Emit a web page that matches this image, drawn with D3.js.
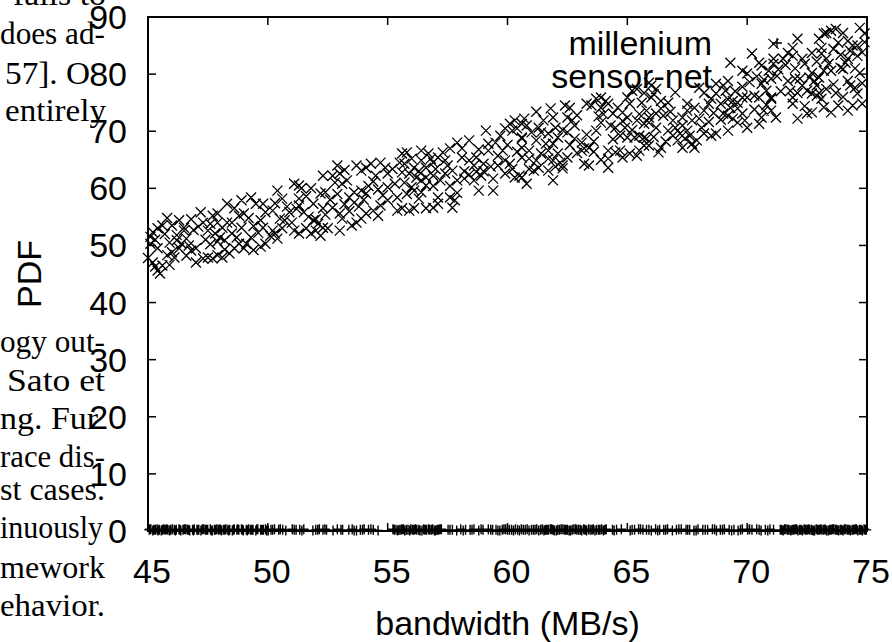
<!DOCTYPE html>
<html lang="en">
  <head>
    <meta charset="UTF-8" />
    <title>PDF - bandwidth</title>
    <script src="https://d3js.org/d3.v7.min.js"></script>
    <style>
      body { margin: 0; background: #fff; }
      svg { display: block; }
    </style>
  </head>
  <body>
    <svg width="892" height="642"></svg>

    <script>
      // ---- data ----
      const xTicks = [45, 50, 55, 60, 65, 70, 75];
      const yTicks = [0, 10, 20, 30, 40, 50, 60, 70, 80, 90];
      const seriesNames = ["millenium", "sensor-net"];

      // millenium: points lying on the PDF = 0 line
      const millenium = [
        [45.05,0.2],[45.12,0.3],[45.2,0.1],[45.31,0.2],[45.38,0.3],[45.47,0.2],[45.55,0.1],[45.66,0.3],[45.72,0.2],[45.83,0.2],
        [45.9,0.1],[46.02,0.3],[46.1,0.2],[46.18,0.2],[46.29,0.3],[46.37,0.1],[46.46,0.2],[46.58,0.3],[46.65,0.2],[46.74,0.1],
        [46.86,0.2],[46.93,0.3],[47.04,0.2],[47.12,0.2],[47.21,0.1],[47.33,0.3],[47.4,0.2],[47.49,0.2],[47.6,0.3],[47.68,0.1],
        [47.77,0.2],[47.88,0.3],[47.95,0.2],[48.06,0.1],[48.14,0.2],[48.25,0.3],[48.33,0.2],[48.41,0.2],[48.52,0.1],[48.6,0.3],
        [48.71,0.2],[48.79,0.2],[48.9,0.3],[48.98,0.1],[49.1,0.2],[49.19,0.3],[49.27,0.2],[49.38,0.2],[49.5,0.1],[49.58,0.3],
        [49.7,0.2],[49.81,0.2],[49.9,0.3],[50.02,0.1],[50.13,0.2],[50.28,0.3],[50.45,0.2],[50.62,0.2],[50.75,0.1],[51.02,0.3],
        [51.18,0.2],[51.33,0.2],[51.5,0.3],[51.88,0.1],[52.0,0.2],[52.15,0.3],[52.3,0.2],[52.45,0.2],[52.72,0.1],[52.9,0.3],
        [53.05,0.2],[53.38,0.2],[53.52,0.3],[53.7,0.1],[53.86,0.2],[54.02,0.3],[54.2,0.2],[54.4,0.2],[54.6,0.1],[55.22,0.3],
        [55.35,0.2],[55.48,0.2],[55.6,0.3],[55.71,0.1],[55.85,0.2],[55.97,0.3],[56.1,0.2],[56.22,0.2],[56.35,0.1],[56.5,0.3],
        [56.62,0.2],[56.75,0.2],[56.88,0.3],[57.0,0.1],[57.12,0.2],[57.24,0.3],[57.52,0.2],[57.7,0.2],[57.88,0.1],[58.05,0.3],
        [58.25,0.2],[58.44,0.2],[58.6,0.3],[58.8,0.1],[58.98,0.2],[59.2,0.3],[59.38,0.2],[59.52,0.2],[59.68,0.1],[59.85,0.3],
        [60.0,0.2],[60.17,0.2],[60.33,0.3],[60.5,0.1],[60.66,0.2],[60.82,0.3],[61.0,0.2],[61.15,0.2],[61.3,0.1],[61.45,0.3],
        [61.58,0.2],[61.7,0.2],[61.84,0.3],[61.96,0.1],[62.1,0.2],[62.24,0.3],[62.38,0.2],[62.5,0.2],[62.63,0.1],[62.77,0.3],
        [62.9,0.2],[63.04,0.2],[63.18,0.3],[63.3,0.1],[63.45,0.2],[63.58,0.3],[63.72,0.2],[63.86,0.2],[64.0,0.1],[64.12,0.3],
        [64.38,0.2],[64.55,0.2],[64.75,0.3],[65.12,0.1],[65.3,0.2],[65.47,0.3],[65.65,0.2],[65.8,0.2],[66.0,0.1],[66.18,0.3],
        [66.35,0.2],[66.52,0.2],[66.68,0.3],[66.88,0.1],[67.05,0.2],[67.25,0.3],[67.45,0.2],[67.6,0.2],[67.78,0.1],[67.95,0.3],
        [68.15,0.2],[68.35,0.2],[68.55,0.3],[68.72,0.1],[68.88,0.2],[69.05,0.3],[69.25,0.2],[69.45,0.2],[69.62,0.1],[69.8,0.3],
        [70.02,0.2],[70.2,0.2],[70.4,0.3],[70.58,0.1],[70.76,0.2],[70.95,0.3],[71.1,0.2],[71.38,0.2],[71.5,0.1],[71.62,0.3],
        [71.75,0.2],[71.88,0.2],[72.0,0.3],[72.12,0.1],[72.25,0.2],[72.38,0.3],[72.5,0.2],[72.62,0.2],[72.75,0.1],[72.88,0.3],
        [73.0,0.2],[73.12,0.2],[73.25,0.3],[73.38,0.1],[73.5,0.2],[73.62,0.3],[73.75,0.2],[73.88,0.2],[74.0,0.1],[74.12,0.3],
        [74.25,0.2],[74.38,0.2],[74.5,0.3],[74.62,0.1],[74.75,0.2],[74.88,0.3],[74.97,0.2],
        [45.08,0.3],[45.25,0.2],[45.42,0.1],[45.6,0.2],[45.78,0.3],[45.95,0.2],[46.14,0.1],[46.33,0.2],[46.52,0.3],[46.7,0.2],
        [46.9,0.1],[47.08,0.2],[47.27,0.3],[47.45,0.2],[47.64,0.1],[47.82,0.2],[48.01,0.3],[48.2,0.2],[48.37,0.1],[48.56,0.2],
        [48.75,0.3],[48.94,0.2],[49.14,0.1],[49.33,0.2],[49.54,0.3],[49.75,0.2],[49.95,0.1],[50.2,0.2],[50.52,0.3],[51.1,0.2],
        [51.42,0.1],[52.08,0.2],[52.38,0.3],[53.12,0.2],[53.6,0.1],[53.95,0.2],[54.3,0.3],[55.28,0.2],[55.42,0.1],[55.55,0.2],
        [55.66,0.3],[55.78,0.2],[55.92,0.1],[56.04,0.2],[56.16,0.3],[56.3,0.2],[56.43,0.1],[56.56,0.2],[56.7,0.3],[56.82,0.2],
        [56.95,0.1],[57.06,0.2],[57.18,0.3],[57.6,0.2],[58.15,0.1],[58.52,0.2],[58.9,0.3],[59.3,0.2],[59.6,0.1],[59.78,0.2],
        [59.92,0.3],[60.08,0.2],[60.25,0.1],[60.42,0.2],[60.58,0.3],[60.74,0.2],[60.9,0.1],[61.08,0.2],[61.22,0.3],[61.38,0.2],
        [61.52,0.1],[61.64,0.2],[61.78,0.3],[61.9,0.2],[62.04,0.1],[62.17,0.2],[62.31,0.3],[62.44,0.2],[62.57,0.1],[62.7,0.2],
        [62.84,0.3],[62.97,0.2],[63.1,0.1],[63.24,0.2],[63.38,0.3],[63.52,0.2],[63.65,0.1],[63.8,0.2],[63.93,0.3],[64.06,0.2],
        [64.45,0.1],[65.2,0.2],[65.55,0.3],[65.9,0.2],[66.27,0.1],[66.6,0.2],[67.15,0.3],[67.52,0.2],[67.87,0.1],[68.25,0.2],
        [68.64,0.3],[68.97,0.2],[69.35,0.1],[69.72,0.2],[70.1,0.3],[70.5,0.2],[70.86,0.1],[71.44,0.2],[71.56,0.3],[71.69,0.2],
        [71.82,0.1],[71.94,0.2],[72.06,0.3],[72.19,0.2],[72.31,0.1],[72.44,0.2],[72.56,0.3],[72.69,0.2],[72.81,0.1],[72.94,0.2],
        [73.06,0.3],[73.19,0.2],[73.31,0.1],[73.44,0.2],[73.56,0.3],[73.69,0.2],[73.81,0.1],[73.94,0.2],[74.06,0.3],[74.19,0.2],
        [74.31,0.1],[74.44,0.2],[74.56,0.3],[74.69,0.2],[74.81,0.1],[74.92,0.2]
      ];

      // sensor-net: the rising cloud of points
      const sensorNet = [
        // 45 - 50
        [45.2,52.3],[45.4,53.0],[45.1,50.3],[45.4,49.5],[45.2,47.0],[45.4,45.6],[45.5,45.1],[45.6,46.5],[45.8,48.3],[46.0,48.8],
        [46.1,47.9],[46.3,49.5],[46.0,53.5],[46.3,54.4],[46.5,53.1],[46.5,52.6],[46.2,50.9],[46.4,50.3],[46.7,50.0],[46.8,49.1],
        [47.0,49.5],[47.0,47.0],[47.3,47.7],[47.5,47.9],[47.7,47.7],[47.9,48.3],[48.1,47.9],[47.2,55.8],[47.3,54.0],[47.5,52.6],
        [47.7,55.2],[47.9,55.6],[47.9,54.0],[48.1,53.1],[47.8,52.1],[48.0,51.4],[48.2,50.9],[48.3,57.3],[48.3,54.0],[48.5,54.0],
        [48.5,52.1],[48.7,51.4],[48.8,50.3],[48.9,53.1],[49.0,55.6],[48.9,57.9],[49.3,58.4],[49.5,57.3],[49.8,57.3],[49.0,49.5],
        [49.1,50.3],[48.6,49.5],[49.3,51.4],[49.7,54.4],[49.8,53.1],[49.9,50.3],[50.1,51.7],[45.1,51.5],[45.3,46.3],[45.0,47.8],
        [45.6,53.5],[45.9,50.5],
        [45.3,51.0],[45.7,52.0],[46.2,51.8],[46.6,51.2],[46.9,52.7],[47.1,53.3],[47.4,51.0],[47.6,50.2],[47.9,50.7],[48.2,49.3],
        [48.4,48.6],[48.8,55.2],[49.2,54.8],[49.4,53.4],[49.6,52.2],[49.9,55.8],[48.6,56.5],[47.6,53.8],[46.8,54.6],[45.8,54.8],
        [49.4,49.2],[49.7,49.8],[46.6,48.2],[45.9,46.6],
        // 50 - 55
        [50.4,59.6],[50.6,58.2],[50.2,56.1],[50.5,54.7],[50.7,54.4],[50.2,52.6],[50.4,51.2],[50.3,52.1],[51.1,60.8],[51.3,60.5],
        [51.4,60.0],[51.3,58.2],[51.3,57.0],[50.9,55.8],[51.5,55.8],[51.1,52.6],[51.3,52.1],[51.6,53.0],[51.8,52.1],[52.0,52.6],
        [52.1,53.8],[52.2,51.7],[52.3,53.1],[52.5,53.0],[51.8,60.0],[52.2,59.1],[52.4,59.3],[51.9,57.3],[52.3,56.5],[52.3,62.2],
        [52.7,62.2],[52.8,61.0],[53.1,60.8],[53.0,62.6],[53.3,61.4],[52.7,56.6],[53.0,55.6],[53.1,54.7],[53.0,52.6],[53.5,53.5],
        [53.7,54.0],[53.9,54.7],[54.1,55.6],[54.4,56.1],[54.6,55.2],[54.7,57.0],[55.0,57.9],[53.4,58.4],[53.6,59.3],[53.9,59.6],
        [54.1,59.1],[53.6,57.5],[53.7,64.0],[53.9,63.1],[54.1,63.6],[54.3,64.3],[54.5,62.2],[54.7,64.5],[54.9,63.6],[55.0,62.6],
        [55.3,60.8],[55.4,56.1],
        [50.3,57.4],[50.8,56.8],[51.0,54.0],[51.2,56.4],[51.6,58.6],[51.7,55.0],[52.0,54.6],[52.4,55.4],[52.6,58.0],[52.9,59.0],
        [53.2,57.2],[53.4,56.0],[53.8,56.8],[54.0,58.0],[54.2,60.4],[54.4,61.2],[54.6,59.8],[54.8,58.8],[55.0,60.2],[55.2,63.4],
        [53.2,63.2],[52.9,64.0],[50.6,53.0],[51.9,54.4],
        // 55 - 60.6
        [55.6,66.1],[55.8,66.3],[55.5,64.5],[55.7,64.3],[56.0,65.2],[56.1,63.6],[56.4,66.6],[56.4,64.9],[56.7,66.1],[56.8,65.2],
        [56.9,64.5],[57.1,65.4],[57.4,64.9],[57.3,66.3],[57.5,64.0],[57.7,63.1],[55.6,62.8],[55.9,62.6],[56.2,61.9],[56.4,61.4],
        [56.6,60.5],[56.6,61.9],[56.9,62.2],[55.7,61.0],[56.1,59.6],[56.3,58.2],[56.4,59.3],[55.6,56.5],[55.9,56.1],[56.1,56.5],
        [56.6,56.5],[56.9,56.6],[57.1,58.4],[57.1,57.3],[57.6,58.4],[57.8,57.9],[57.7,56.6],[57.9,61.4],[58.2,61.7],[58.6,61.4],
        [58.8,59.6],[59.4,61.7],[59.4,59.6],[58.9,62.2],[57.9,68.0],[58.1,67.0],[58.4,68.4],[58.1,65.4],[58.4,64.9],[58.7,65.4],
        [58.6,64.0],[59.0,64.3],[59.2,66.6],[59.1,70.1],[59.2,67.8],[59.5,68.0],[59.8,66.6],[59.6,65.7],[59.9,70.5],[60.1,71.3],
        [60.3,71.9],[60.2,70.1],[60.4,70.5],[59.9,64.9],[60.1,64.3],[60.3,61.9],[60.5,62.2],[60.6,68.9],
        [55.4,58.4],[55.8,59.0],[56.0,60.2],[56.3,63.0],[56.6,63.6],[56.9,60.4],[57.2,61.4],[57.4,62.6],[57.0,63.4],[57.6,60.4],
        [57.9,59.2],[58.2,63.0],[58.4,62.4],[58.7,62.9],[59.0,63.0],[59.3,63.8],[59.6,64.0],[59.9,62.6],[60.2,63.4],[60.4,66.4],
        [60.0,67.6],[59.7,69.2],[58.8,66.8],[57.6,67.0],
        // 60.6 - 65.8
        [60.7,72.2],[60.6,71.3],[60.8,71.0],[60.6,68.7],[60.6,67.1],[60.9,66.6],[60.6,65.4],[60.9,65.2],[60.6,61.9],[60.8,60.8],
        [61.1,63.1],[61.3,63.6],[61.2,64.9],[61.4,66.1],[61.2,68.4],[61.4,69.8],[61.5,71.9],[61.7,69.6],[61.9,72.4],[61.8,74.0],
        [61.9,67.8],[62.1,68.9],[61.7,66.6],[61.7,65.2],[61.9,64.9],[61.7,63.1],[61.9,61.4],[62.1,66.1],[62.2,64.5],[62.3,64.0],
        [62.5,65.4],[62.3,63.5],[62.4,74.5],[62.6,74.1],[62.5,72.4],[62.7,71.9],[62.8,71.0],[62.5,69.8],[62.8,68.7],[63.1,68.0],
        [63.2,67.0],[63.1,66.6],[63.4,67.1],[63.2,64.3],[63.4,64.0],[63.3,74.8],[63.5,74.5],[63.7,75.7],[63.9,75.9],[64.1,75.3],
        [63.9,74.1],[64.2,74.8],[63.9,71.5],[63.7,70.1],[64.4,73.1],[64.6,74.1],[64.8,73.3],[65.0,72.4],[65.1,74.8],[65.0,75.9],
        [65.2,77.1],[65.4,77.4],[65.7,76.7],[65.8,73.6],[65.4,71.9],[65.7,71.3],[64.9,70.6],[64.7,69.2],[65.0,68.9],[65.3,68.9],
        [65.5,69.2],[65.7,68.9],[64.2,66.6],[64.2,65.2],[64.2,63.6],[64.5,66.3],[64.7,66.6],[64.8,65.4],[65.1,66.1],[65.4,65.7],
        [65.5,66.6],[65.7,67.5],
        [61.0,69.8],[61.3,70.6],[62.0,70.6],[62.3,70.2],[62.6,67.6],[62.9,66.2],[63.3,69.4],[63.6,68.2],[63.8,72.6],[64.0,73.0],
        [64.3,71.0],[64.5,70.6],[64.8,71.8],[63.6,66.4],[63.9,65.0],[64.4,68.6],[61.6,67.8],[62.0,63.8],[60.9,63.4],[65.2,70.2],
        [65.5,73.0],[65.6,75.0],[62.9,72.8],[61.2,73.4],
        // 65.8 - 71
        [65.9,78.5],[66.0,78.0],[66.2,77.4],[66.0,75.9],[66.4,75.3],[66.7,75.0],[66.4,74.0],[66.2,73.1],[65.9,72.4],[65.9,71.5],
        [66.2,70.6],[66.9,71.9],[66.7,70.1],[65.8,68.7],[65.9,67.5],[66.3,66.3],[66.4,67.1],[66.9,69.2],[67.1,68.4],[67.3,67.1],
        [67.4,68.7],[67.7,67.8],[67.8,67.1],[67.5,70.1],[67.3,71.0],[67.3,72.4],[67.5,73.6],[67.5,74.8],[67.8,74.1],[67.7,71.9],
        [68.0,72.2],[68.2,73.6],[68.4,74.8],[68.2,76.7],[68.5,75.7],[68.7,76.6],[68.7,78.3],[69.0,78.0],[69.2,78.8],[69.1,77.1],
        [68.9,74.8],[69.0,73.1],[69.2,72.7],[69.4,72.2],[69.6,71.5],[69.8,73.1],[69.9,71.9],[70.0,70.6],[69.6,74.0],[69.3,74.1],
        [69.4,75.3],[69.6,75.0],[69.8,75.9],[70.0,75.9],[70.3,76.2],[70.5,75.9],[70.8,77.1],[71.0,75.9],[70.6,72.4],[70.5,71.3],
        [70.7,73.6],[68.2,69.6],[68.5,69.2],[68.7,69.6],[69.2,70.1],[69.3,82.0],[69.8,80.6],[70.0,80.1],[70.2,83.6],[70.5,82.0],
        [70.6,81.5],[70.6,78.3],[71.1,85.3],[71.1,81.8],[71.0,79.2],
        [66.1,76.5],[66.5,72.7],[66.8,73.4],[67.0,70.6],[67.2,69.6],[67.6,69.2],[67.9,68.4],[68.1,70.6],[68.4,71.6],[68.6,73.2],
        [68.9,72.0],[69.2,75.6],[69.5,77.0],[69.8,77.8],[70.1,78.6],[70.4,79.6],[70.7,79.0],[70.9,80.6],[70.3,73.8],[70.8,74.6],
        [66.6,68.2],[66.1,69.0],[67.0,76.8],[68.0,77.6],
        // 71 - 75
        [71.1,82.7],[71.5,82.7],[71.7,83.7],[71.9,84.6],[71.9,83.2],[72.1,86.2],[72.3,82.7],[72.7,83.7],[73.0,86.2],[73.2,87.1],
        [73.3,87.2],[73.1,84.6],[73.5,87.6],[73.7,87.9],[74.0,87.2],[73.8,85.5],[74.2,85.8],[74.4,85.0],[74.6,85.0],[74.3,84.1],
        [74.6,83.2],[74.2,82.7],[74.7,88.1],[74.9,87.1],[73.3,82.7],[73.4,81.8],[73.5,80.6],[73.9,81.1],[74.0,80.9],[73.2,80.6],
        [72.7,80.2],[72.6,79.4],[72.8,78.8],[73.0,79.4],[71.7,78.8],[72.0,79.2],[72.2,79.2],[71.8,77.1],[71.9,75.9],[71.9,74.8],
        [72.1,76.7],[72.5,77.1],[72.7,76.6],[72.9,76.2],[73.0,76.7],[73.1,75.7],[71.0,75.7],[71.0,73.6],[72.1,72.2],[72.5,73.1],
        [72.7,73.3],[73.5,73.3],[73.8,74.5],[73.7,76.7],[74.2,78.8],[74.3,78.0],[74.5,77.6],[74.6,76.6],[74.4,74.5],[74.7,80.2],
        [71.3,80.8],[71.6,81.6],[72.0,81.0],[72.4,81.8],[72.9,82.2],[73.1,83.6],[73.6,84.4],[73.9,83.4],[74.1,82.0],[74.5,81.0],
        [74.8,83.8],[74.9,85.6],[72.3,78.0],[72.9,78.0],[73.3,77.4],[73.6,78.2],[74.0,76.0],[74.8,78.4],[71.4,77.0],[71.2,72.4],
        [72.4,74.4],[73.2,74.2],[74.2,73.6],[74.8,74.8]
      ];

      // fragments of the page text that sits behind the figure
      const pageLines = [
        { text: "fails to", y: 5, x0: 13, x1: 106 },
        { text: "does ad-", y: 44, x0: 0, x1: 105 },
        { text: "57]. O", y: 84, x0: 5, x1: 90 },
        { text: "entirely", y: 121, x0: 5, x1: 106 },
        { text: "ogy out-", y: 352, x0: 0, x1: 105 },
        { text: "Sato et", y: 391, x0: 7, x1: 105 },
        { text: "ng. Fur", y: 429, x0: 0, x1: 98 },
        { text: "race dis-", y: 467, x0: 0, x1: 105 },
        { text: "st cases.", y: 500, x0: 0, x1: 105 },
        { text: "inuously", y: 538, x0: 0, x1: 103 },
        { text: "mework", y: 578, x0: 0, x1: 105 },
        { text: "ehavior.", y: 616, x0: 0, x1: 105 }
      ];

      const svg = d3.select("svg");
      const width = +svg.attr("width");
      const height = +svg.attr("height");
      const margin = { left: 148, right: width - 867, top: 17, bottom: height - 531 };
      const font = "'Liberation Sans', Arial, sans-serif";

      const x = d3.scaleLinear().domain([45, 75]).range([margin.left, width - margin.right]);
      const y = d3.scaleLinear().domain([0, 90]).range([height - margin.bottom, margin.top]);

      // page text behind
      svg.append("g")
        .selectAll("text")
        .data(pageLines)
        .join("text")
        .attr("x", (d) => d.x0)
        .attr("y", (d) => d.y)
        .attr("textLength", (d) => d.x1 - d.x0)
        .attr("lengthAdjust", "spacingAndGlyphs")
        .style("font-family", "'Liberation Serif', 'DejaVu Serif', serif")
        .style("font-size", "32px")
        .style("fill", "#000")
        .text((d) => d.text);

      // frame
      svg.append("rect")
        .attr("x", x(45)).attr("y", y(90))
        .attr("width", x(75) - x(45)).attr("height", y(0) - y(90))
        .style("fill", "none").style("stroke", "#000").style("stroke-width", 2);

      // ticks (mirrored, pointing inward)
      const tickLen = 8;
      const ticks = svg.append("g").style("stroke", "#000").style("stroke-width", 1.5);
      yTicks.forEach((t) => {
        ticks.append("line").attr("x1", x(45)).attr("x2", x(45) + tickLen).attr("y1", y(t)).attr("y2", y(t));
        ticks.append("line").attr("x1", x(75)).attr("x2", x(75) - tickLen).attr("y1", y(t)).attr("y2", y(t));
      });
      xTicks.forEach((t) => {
        ticks.append("line").attr("x1", x(t)).attr("x2", x(t)).attr("y1", y(0)).attr("y2", y(0) - tickLen);
        ticks.append("line").attr("x1", x(t)).attr("x2", x(t)).attr("y1", y(90)).attr("y2", y(90) + tickLen);
      });

      // tick labels
      svg.append("g")
        .selectAll("text")
        .data(yTicks)
        .join("text")
        .attr("x", 127)
        .attr("y", (d) => y(d) + 12)
        .style("text-anchor", "end")
        .style("font-family", font)
        .style("font-size", "34px")
        .text((d) => d);

      svg.append("g")
        .selectAll("text")
        .data(xTicks)
        .join("text")
        .attr("x", (d) => x(d) + 4)
        .attr("y", 583)
        .style("text-anchor", "middle")
        .style("font-family", font)
        .style("font-size", "34px")
        .text((d) => d);

      // axis titles
      svg.append("text")
        .attr("x", (x(45) + x(75)) / 2)
        .attr("y", 635)
        .style("text-anchor", "middle")
        .style("font-family", font)
        .style("font-size", "34px")
        .text("bandwidth (MB/s)");

      svg.append("text")
        .attr("transform", `translate(41,${(y(0) + y(90)) / 2}) rotate(-90)`)
        .style("text-anchor", "middle")
        .style("font-family", font)
        .style("font-size", "34px")
        .text("PDF");

      // point symbols
      const s = 5;
      const plusPath = (cx, cy) => `M${cx - s},${cy}H${cx + s}M${cx},${cy - s}V${cy + s}`;
      const crossPath = (cx, cy) => `M${cx - s},${cy - s}L${cx + s},${cy + s}M${cx - s},${cy + s}L${cx + s},${cy - s}`;

      svg.append("path")
        .attr("d", millenium.map((d) => plusPath(x(d[0]), y(d[1]))).join(""))
        .style("fill", "none").style("stroke", "#000").style("stroke-width", 1.4);

      svg.append("path")
        .attr("d", sensorNet.map((d) => crossPath(x(d[0]), y(d[1]))).join(""))
        .style("fill", "none").style("stroke", "#000").style("stroke-width", 1.3);

      // key
      const keyTextX = 712;
      const keySampleX = 777;
      const keyRows = [55, 88];
      seriesNames.forEach((name, i) => {
        svg.append("text")
          .attr("x", keyTextX)
          .attr("y", keyRows[i])
          .style("text-anchor", "end")
          .style("font-family", font)
          .style("font-size", "34px")
          .text(name);
        const cy = keyRows[i] - 12;
        svg.append("path")
          .attr("d", i === 0 ? plusPath(keySampleX, cy) : crossPath(keySampleX, cy))
          .style("fill", "none").style("stroke", "#000").style("stroke-width", 1.3);
      });
    </script>
  </body>
</html>
